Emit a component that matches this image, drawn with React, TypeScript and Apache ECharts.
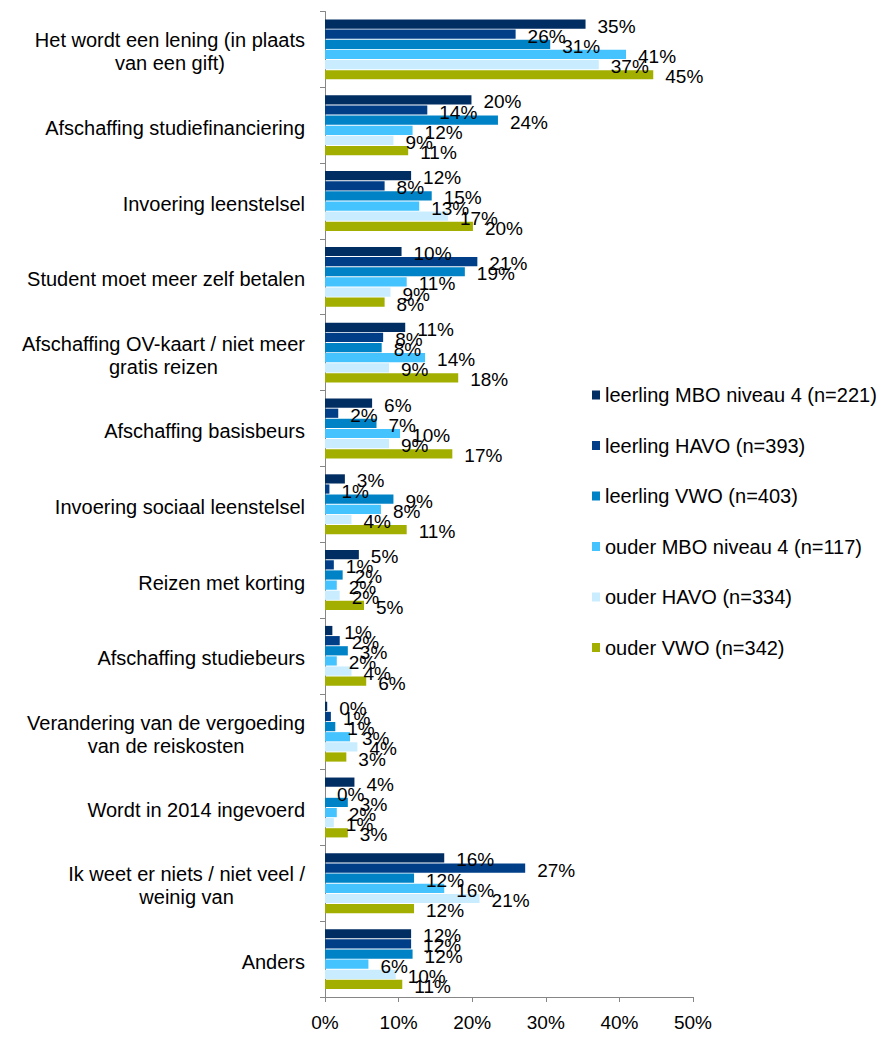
import React, { useEffect, useRef } from "react";
import * as echarts from "echarts";

const categories = [
  "Het wordt een lening (in plaats\nvan een gift)",
  "Afschaffing studiefinanciering",
  "Invoering leenstelsel",
  "Student moet meer zelf betalen",
  "Afschaffing OV-kaart / niet meer\ngratis reizen",
  "Afschaffing basisbeurs",
  "Invoering sociaal leenstelsel",
  "Reizen met korting",
  "Afschaffing studiebeurs",
  "Verandering van de vergoeding\nvan de reiskosten",
  "Wordt in 2014 ingevoerd",
  "Ik weet er niets / niet veel /\nweinig van",
  "Anders",
];

const seriesNames = [
  "leerling MBO niveau 4 (n=221)",
  "leerling HAVO (n=393)",
  "leerling VWO (n=403)",
  "ouder MBO niveau 4 (n=117)",
  "ouder HAVO (n=334)",
  "ouder VWO (n=342)",
];

const leerlingMBO = [35.4, 19.9, 11.7, 10.4, 10.9, 6.4, 2.7, 4.6, 1.0, 0.3, 4.0, 16.2, 11.7];
const leerlingHAVO = [25.9, 13.9, 8.1, 20.7, 7.9, 1.8, 0.6, 1.2, 2.0, 0.8, 0, 27.2, 11.7];
const leerlingVWO = [30.6, 23.5, 14.5, 19.0, 7.7, 7.0, 9.3, 2.4, 3.1, 1.4, 3.1, 12.1, 11.9];
const ouderMBO = [40.9, 11.9, 12.8, 11.1, 13.6, 10.2, 7.6, 1.6, 1.6, 3.4, 1.6, 16.2, 5.9];
const ouderHAVO = [37.2, 9.3, 16.7, 8.9, 8.7, 8.7, 3.6, 2.0, 3.6, 4.4, 1.2, 21.0, 9.6];
const ouderVWO = [44.6, 11.3, 20.1, 8.1, 18.1, 17.3, 11.1, 5.3, 5.6, 2.9, 3.1, 12.1, 10.5];

const xTicks = [0, 10, 20, 30, 40, 50];

const colors = ["#002D62", "#003F87", "#0083C6", "#45C3FF", "#C9EDFF", "#A3AF00"];

const FONT = "'Liberation Sans', Arial, sans-serif";

export default function App() {
  const ref = useRef<HTMLDivElement>(null);
  useEffect(() => {
    document.body.style.margin = "0";
    if (!ref.current) return;
    const chart = echarts.init(ref.current, undefined, { renderer: "svg" });
    const allData = [leerlingMBO, leerlingHAVO, leerlingVWO, ouderMBO, ouderHAVO, ouderVWO];
    chart.setOption({
      animation: false,
      textStyle: { fontFamily: FONT },
      grid: { left: 325, right: 191, top: 11.5, bottom: 40, containLabel: false },
      legend: {
        orient: "vertical",
        left: 587,
        top: 380,
        itemWidth: 8,
        itemHeight: 9,
        itemGap: 30.5,
        icon: "rect",
        data: seriesNames,
        textStyle: { fontSize: 20, color: "#000", fontFamily: FONT },
      },
      xAxis: {
        type: "value",
        min: xTicks[0],
        max: xTicks[xTicks.length - 1],
        interval: 10,
        axisLabel: { formatter: "{value}%", fontSize: 19, color: "#000", margin: 16, fontFamily: FONT },
        axisLine: { show: true, lineStyle: { color: "#868686", width: 1 } },
        axisTick: { show: true, length: 5, lineStyle: { color: "#868686" } },
        splitLine: { show: false },
      },
      yAxis: {
        type: "category",
        inverse: true,
        data: categories,
        axisLine: { show: true, lineStyle: { color: "#868686", width: 1 } },
        axisTick: { show: true, length: 5, lineStyle: { color: "#868686" } },
        axisLabel: {
          margin: 20,
          color: "#000",
          fontSize: 20,
          fontFamily: FONT,
          padding: [5, 0, 0, 0],
          formatter: (v: string) => v.split("\n").map((l) => `{c|${l}}`).join("\n"),
          rich: { c: { align: "center", fontSize: 20, lineHeight: 23, color: "#000", fontFamily: FONT } },
        },
      },
      series: seriesNames.map((name, i) => ({
        name,
        type: "bar",
        data: allData[i],
        barCategoryGap: "21%",
        barGap: "10%",
        itemStyle: { color: colors[i] },
        label: {
          show: true,
          position: "right",
          distance: 12,
          offset: [0, 2],
          fontSize: 19,
          color: "#000",
          fontFamily: FONT,
          formatter: (p: any) => Math.round(p.value) + "%",
        },
      })),
    });
    return () => chart.dispose();
  }, []);
  return <div ref={ref} style={{ width: 884, height: 1037 }} />;
}
